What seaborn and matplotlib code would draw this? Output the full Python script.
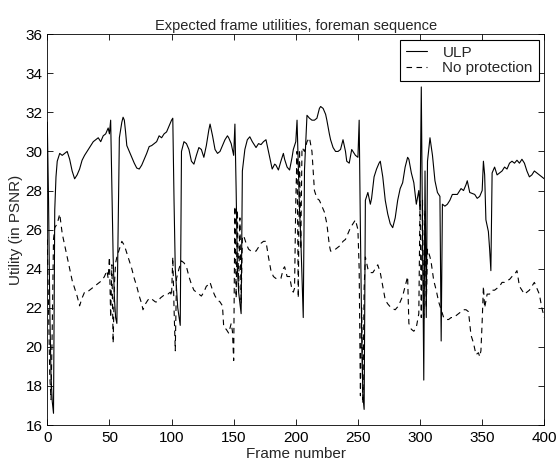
import numpy as np
import pandas as pd
import matplotlib
matplotlib.use("Agg")
import matplotlib.pyplot as plt
import seaborn as sns

# Datos: ULP (linea continua)
ulp_frames = [0, 1, 2, 3, 4, 5, 6, 7, 8, 10, 12, 14, 16, 18, 20, 22, 24, 26, 28, 30,
              33, 35, 37, 39, 41, 43, 45, 47, 49, 50, 51, 52, 53, 54, 55, 56, 57, 58, 60, 61,
              62, 63, 64, 66, 68, 70, 72, 74, 76, 78, 80, 82, 84, 86, 88, 90, 92, 94, 96, 98,
              100, 101, 102, 103, 105, 107, 108, 110, 112, 114, 116, 118, 120, 122, 124, 126, 128, 130, 131, 133,
              135, 137, 139, 141, 143, 145, 146, 148, 150, 151, 152, 153, 154, 156, 157, 159, 161, 163, 165, 167,
              168, 170, 172, 174, 176, 178, 180, 181, 183, 184, 186, 188, 190, 191, 193, 195, 197, 198, 200, 201,
              203, 204, 206, 207, 209, 211, 213, 215, 217, 219, 220, 222, 224, 225, 227, 228, 230, 232, 234, 236,
              238, 240, 241, 243, 245, 247, 248, 250, 251, 252, 253, 254, 255, 256, 258, 260, 261, 263, 265, 267,
              268, 270, 272, 274, 276, 278, 280, 282, 284, 286, 288, 290, 291, 293, 295, 297, 299, 300, 301, 302,
              303, 304, 305, 306, 308, 310, 312, 314, 316, 317, 318, 320, 322, 324, 326, 328, 330, 332, 333, 335,
              337, 338, 340, 342, 344, 346, 348, 350, 351, 352, 353, 355, 356, 357, 358, 360, 362, 364, 366, 368,
              370, 372, 374, 376, 378, 380, 382, 384, 386, 388, 390, 392, 394, 396, 398, 400]
ulp_values = [31.5, 27.5, 22.0, 18.5, 17.2, 16.6, 27.0, 28.7, 29.5, 29.9, 29.8, 29.9, 30.0, 29.6, 29.0, 28.6, 28.8, 29.1, 29.55, 29.8,
              30.1, 30.3, 30.5, 30.6, 30.7, 30.5, 30.8, 30.9, 31.2, 30.9, 31.6, 28.0, 24.6, 22.5, 21.5, 21.2, 26.0, 30.7, 31.5, 31.75,
              31.6, 31.0, 30.3, 30.0, 29.7, 29.4, 29.15, 29.1, 29.3, 29.6, 29.9, 30.25, 30.3, 30.4, 30.5, 30.8, 30.7, 30.9, 31.0, 31.3,
              31.6, 31.7, 27.5, 24.0, 22.0, 21.1, 30.0, 30.5, 30.4, 30.1, 29.5, 29.35, 29.8, 30.2, 30.1, 29.7, 30.3, 31.1, 31.4, 30.8,
              30.1, 29.9, 30.0, 30.3, 30.6, 30.8, 30.7, 30.4, 29.8, 31.4, 28.0, 24.0, 22.8, 21.7, 29.0, 30.1, 30.6, 30.75, 30.5, 30.3,
              30.2, 30.4, 30.35, 30.5, 30.6, 30.0, 29.4, 29.1, 29.35, 29.3, 29.05, 29.5, 29.9, 29.6, 29.2, 29.05, 29.7, 30.1, 30.5, 31.6,
              27.0, 25.6, 21.5, 29.05, 31.85, 31.7, 31.6, 31.6, 31.7, 32.2, 32.3, 32.2, 31.9, 31.6, 30.9, 30.6, 30.2, 30.0, 30.0, 30.1,
              30.6, 30.0, 29.5, 29.4, 30.1, 29.9, 29.8, 29.7, 31.6, 26.0, 21.0, 17.5, 16.8, 27.5, 27.9, 27.3, 27.6, 28.7, 29.1, 29.4,
              29.5, 28.7, 27.5, 26.8, 26.3, 26.1, 26.6, 27.5, 28.1, 28.4, 29.2, 29.7, 29.6, 28.9, 28.4, 27.3, 28.0, 27.0, 33.3, 26.0,
              18.3, 29.0, 21.5, 29.5, 30.7, 29.8, 28.5, 27.9, 27.7, 20.3, 27.3, 27.2, 27.3, 27.5, 27.8, 27.8, 27.8, 28.0, 28.1, 28.0,
              28.3, 28.5, 27.9, 27.85, 27.8, 27.6, 27.7, 28.0, 29.5, 28.8, 26.5, 25.9, 25.0, 23.9, 28.9, 29.2, 28.8, 28.9, 29.0, 29.2,
              29.1, 29.4, 29.5, 29.4, 29.55, 29.4, 29.6, 29.4, 29.0, 28.7, 28.8, 29.0, 28.9, 28.8, 28.7, 28.6]

# Sin proteccion (linea discontinua)
noprot_frames = [0, 1, 2, 3, 4, 5, 6, 8, 10, 12, 14, 16, 18, 20, 22, 24, 26, 28, 30, 32,
                 34, 36, 38, 40, 42, 44, 46, 48, 49, 50, 51, 52, 53, 54, 55, 56, 58, 60, 62, 64,
                 66, 68, 70, 72, 74, 76, 77, 79, 81, 83, 85, 87, 89, 91, 93, 95, 97, 99, 100, 101,
                 102, 103, 104, 106, 108, 110, 112, 114, 116, 118, 120, 122, 124, 126, 128, 130, 131, 133, 135, 137,
                 139, 141, 142, 144, 146, 148, 149, 150, 151, 152, 153, 154, 155, 156, 157, 158, 160, 162, 164, 166,
                 168, 170, 172, 174, 176, 178, 180, 182, 184, 186, 188, 190, 191, 193, 195, 197, 198, 199, 200, 201,
                 202, 203, 204, 205, 207, 209, 211, 213, 215, 217, 219, 221, 223, 225, 227, 228, 230, 232, 234, 236,
                 238, 240, 242, 244, 246, 248, 250, 251, 252, 253, 254, 255, 256, 258, 260, 262, 264, 266, 268, 270,
                 272, 274, 276, 278, 280, 282, 284, 286, 288, 290, 291, 293, 295, 297, 299, 300, 301, 302, 303, 304,
                 305, 306, 308, 309, 311, 313, 315, 317, 319, 321, 323, 325, 327, 329, 331, 333, 335, 337, 339, 341,
                 343, 345, 347, 348, 349, 350, 351, 352, 354, 356, 358, 360, 362, 364, 366, 368, 370, 372, 374, 376,
                 378, 380, 382, 384, 386, 388, 390, 392, 394, 396, 398, 400]
noprot_values = [25.5, 22.0, 18.5, 17.3, 21.0, 25.5, 26.1, 26.3, 26.8, 25.8, 25.2, 24.6, 24.0, 23.4, 23.0, 22.6, 22.1, 22.5, 22.8, 22.8,
                 22.9, 23.0, 23.1, 23.2, 23.3, 23.4, 23.6, 23.9, 23.5, 24.6, 21.5, 24.2, 20.2, 23.2, 24.3, 24.6, 25.0, 25.4, 25.2, 24.8,
                 24.4, 24.0, 23.5, 23.1, 22.6, 22.2, 21.9, 22.2, 22.4, 22.5, 22.4, 22.3, 22.3, 22.5, 22.6, 22.7, 22.7, 22.8, 22.6, 24.6,
                 22.0, 19.8, 23.5, 24.0, 24.4, 24.3, 24.1, 23.6, 23.2, 22.9, 22.8, 22.7, 22.6, 22.8, 23.1, 23.2, 23.3, 22.9, 22.6, 22.4,
                 22.3, 22.1, 21.0, 20.9, 20.7, 21.2, 20.8, 19.3, 27.2, 22.5, 27.0, 22.8, 26.6, 22.2, 25.6, 25.7, 25.3, 25.0, 24.9, 24.9,
                 24.9, 25.1, 25.3, 25.4, 25.4, 24.6, 23.9, 23.6, 23.5, 23.5, 23.5, 24.0, 24.1, 23.6, 23.6, 22.9, 22.8, 23.0, 27.5, 30.0,
                 22.5, 30.1, 25.0, 30.2, 30.0, 30.5, 30.7, 30.0, 28.0, 27.6, 27.5, 27.2, 26.9, 26.3, 25.2, 24.9, 24.9, 25.0, 25.1, 25.2,
                 25.4, 25.5, 25.8, 26.1, 26.3, 26.5, 26.0, 24.0, 17.5, 22.0, 17.1, 23.0, 24.6, 24.0, 23.8, 23.8, 24.0, 24.2, 23.8, 23.1,
                 22.4, 22.2, 22.05, 21.95, 21.9, 22.05, 22.3, 22.6, 23.1, 23.6, 21.2, 20.9, 20.8, 21.0, 21.7, 27.5, 21.5, 27.5, 21.4, 27.0,
                 22.0, 25.0, 24.6, 24.3, 23.4, 22.9, 22.3, 21.9, 21.5, 21.4, 21.4, 21.5, 21.5, 21.6, 21.7, 21.8, 21.9, 21.9, 21.8, 20.6,
                 20.2, 19.6, 19.7, 19.5, 19.8, 21.3, 23.1, 22.0, 22.7, 22.7, 22.9, 22.9, 23.0, 23.1, 23.3, 23.3, 23.4, 23.45, 23.6, 23.7,
                 23.9, 23.1, 22.9, 22.7, 22.8, 22.9, 23.1, 23.3, 23.0, 22.7, 22.0, 21.5]

x_ticks = [0, 50, 100, 150, 200, 250, 300, 350, 400]
y_ticks = [16, 18, 20, 22, 24, 26, 28, 30, 32, 34, 36]

df_ulp = pd.DataFrame({"frame": ulp_frames, "utility": ulp_values})
df_np = pd.DataFrame({"frame": noprot_frames, "utility": noprot_values})

sns.set_style("ticks")
plt.rcParams['font.family'] = ['Liberation Sans', 'DejaVu Sans']
plt.rcParams['xtick.direction'] = 'in'
plt.rcParams['ytick.direction'] = 'in'

fig = plt.figure(figsize=(5.59, 4.62), dpi=100)
ax = fig.add_axes([0.0846, 0.080, 0.8891, 0.846])

sns.lineplot(data=df_ulp, x="frame", y="utility", color="black", linewidth=0.8,
             label="ULP", ax=ax)
sns.lineplot(data=df_np, x="frame", y="utility", color="black", linewidth=0.8,
             linestyle=(0, (5, 4)), label="No protection", ax=ax)

ax.set_xlim(0, 400)
ax.set_ylim(16, 36)
ax.set_xticks(x_ticks)
ax.set_yticks(y_ticks)
ax.tick_params(axis="both", labelsize=11, length=4, width=0.6,
               top=True, right=True, colors="black")
ax.tick_params(axis="x", pad=4.5)
for s in ax.spines.values():
    s.set_linewidth(0.6)
    s.set_color("black")

ax.set_xlabel("Frame number", fontsize=11, labelpad=1.5)
ax.set_ylabel("Utility (in PSNR)", fontsize=11, labelpad=2)
ax.set_title("Expected frame utilities, foreman sequence", fontsize=10.5, pad=3)

leg = ax.legend(loc="upper right", fontsize=11, frameon=True, fancybox=False,
                edgecolor="black", framealpha=1, borderpad=0.4, handlelength=1.4,
                handletextpad=1.0, labelspacing=0.1, borderaxespad=0.35)
leg.get_frame().set_linewidth(0.8)

fig.savefig("out.png", dpi=100)
